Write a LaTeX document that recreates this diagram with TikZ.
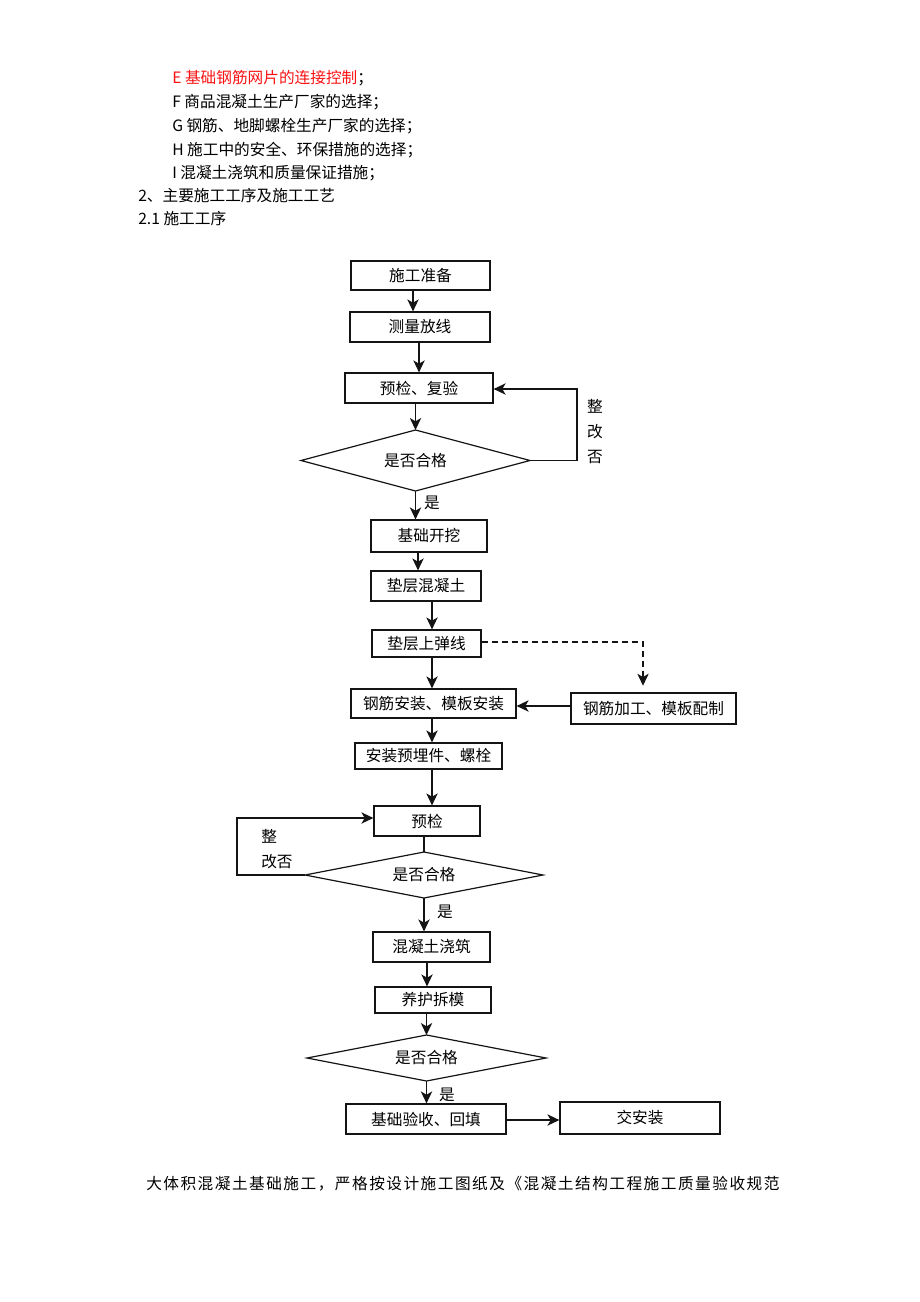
\documentclass[tikz,border=0pt]{standalone}
\usepackage{fontspec}
\newfontfamily\cjk{Noto Sans CJK SC}
\newfontfamily\cjkwide[LetterSpace=9.5]{Noto Sans CJK SC}
\usetikzlibrary{arrows.meta}
\definecolor{redtxt}{RGB}{250,20,20}
\definecolor{linec}{RGB}{20,20,20}
\newcommand\varr[3]{\coordinate (tmpx) at (#3,0); \draw[arr] (#1.south -| tmpx) -- (#2.north -| tmpx);}
% diamond: name, cx, cy, half width, half height, text
\newcommand\mydia[6]{%
  \coordinate (#1n) at (#2,#3-#5); \coordinate (#1s) at (#2,#3+#5);
  \coordinate (#1e) at (#2+#4,#3); \coordinate (#1w) at (#2-#4,#3);
  \draw[dia] (#1n) -- (#1e) -- (#1s) -- (#1w) -- cycle;
  \node (#1) at (#2,#3) {#6};}
\begin{document}
\begin{tikzpicture}[x=0.75pt,y=-0.75pt,
  every node/.style={font=\cjk\fontsize{11.75}{14}\selectfont, text=black},
  box/.style={draw=linec, line width=0.9pt, inner sep=0pt, rectangle},
  dia/.style={draw=linec, line width=0.9pt, line join=miter},
  arr/.style={draw=linec, -{Stealth[length=9pt,width=8.5pt,inset=2.5pt]}, line width=1pt},
  ln/.style={draw=linec, line width=1pt},
  txt/.style={anchor=west, inner sep=0pt}]
\fill[white] (0,0) rectangle (920,1302);
\useasboundingbox (0,0) rectangle (920,1302);

% header text
\node[txt] (l1) at (172,78) {\textcolor{redtxt}{E 基础钢筋网片的连接控制}；};
\node[txt] (l2) at (172,102) {F 商品混凝土生产厂家的选择；};
\node[txt] (l3) at (172,126) {G 钢筋、地脚螺栓生产厂家的选择；};
\node[txt] (l4) at (172,150) {H 施工中的安全、环保措施的选择；};
\node[txt] (l5) at (172,173) {I 混凝土浇筑和质量保证措施；};
\node[txt] (l6) at (138,196) {2、主要施工工序及施工工艺};
\node[txt] (l7) at (138,219) {2.1 施工工序};

% boxes
\node[box, minimum width=104.25pt, minimum height=21.75pt] (b1) at (420.5,275.5) {施工准备};
\node[box, minimum width=105pt, minimum height=22.5pt] (b2) at (420,327) {测量放线};
\node[box, minimum width=111pt, minimum height=22.5pt] (b3) at (419,388) {预检、复验};
\mydia{d1}{415.5}{460.5}{114.5}{30.5}{是否合格}
\node[box, minimum width=87pt, minimum height=24pt] (b5) at (429,536) {基础开挖};
\node[box, minimum width=82.5pt, minimum height=22.5pt] (b6) at (426,586) {垫层混凝土};
\node[box, minimum width=81.75pt, minimum height=20.25pt] (b7) at (426.5,643.5) {垫层上弹线};
\node[box, minimum width=123.75pt, minimum height=21.75pt] (b8) at (433.5,703.5) {钢筋安装、模板安装};
\node[box, minimum width=123.75pt, minimum height=23.25pt] (b9) at (653.5,708.5) {钢筋加工、模板配制};
\node[box, minimum width=110.25pt, minimum height=19.5pt] (b10) at (428.5,756) {安装预埋件、螺栓};
\node[box, minimum width=79.5pt, minimum height=22.5pt] (b11) at (427,821) {预检};
\mydia{d2}{424}{875}{119}{23}{是否合格}
\node[box, minimum width=87.75pt, minimum height=22.5pt] (b13) at (431.5,947) {混凝土浇筑};
\node[box, minimum width=87pt, minimum height=19.5pt] (b14) at (433,1000) {养护拆模};
\mydia{d3}{426.5}{1058}{119.5}{23}{是否合格}
\node[box, minimum width=120pt, minimum height=22.5pt] (b16) at (426,1119) {基础验收、回填};
\node[box, minimum width=120pt, minimum height=24pt] (b17) at (640,1118) {交安装};

% labels
\node[align=center, inner sep=0pt, font=\cjk\fontsize{11.75}{18.75}\selectfont] (t1) at (595,432) {整\\改\\否};
\node[align=left, anchor=west, inner sep=0pt, font=\cjk\fontsize{11.75}{18.75}\selectfont] (t2) at (261,849.5) {整\\改否};
\node (y1) at (432,503) {是};
\node (y2) at (445,912) {是};
\node (y3) at (447,1095) {是};

% vertical arrows
\varr{b1}{b2}{413}
\varr{b2}{b3}{419}
\draw[arr] (b3.south -| d1n) -- (d1n);
\draw[arr] (d1s) -- (d1s |- b5.north);
\varr{b5}{b6}{418}
\varr{b6}{b7}{432}
\varr{b7}{b8}{432}
\varr{b8}{b10}{432}
\varr{b10}{b11}{432}
\draw[ln] (b11.south -| d2n) -- (d2n);
\draw[arr] (d2s) -- (d2s |- b13.north);
\varr{b13}{b14}{427}
\draw[arr] (b14.south -| d3n) -- (d3n);
\draw[arr] (d3s) -- (d3s |- b16.north);

% feedback loops
\coordinate (r1) at (577,389);
\draw[arr] (d1e) -| (r1) -- (b3.east |- r1);
\coordinate (r2) at (237,818);
\draw[arr] (d2w) -| (r2) -- (b11.west |- r2);

% dashed and horizontal
\coordinate (c1) at (643,642);
\draw[arr, dash pattern=on 4.5pt off 3pt] (b7.east |- c1) -- (c1) -- ([yshift=5pt]b9.north -| c1);
\coordinate (c2) at (0,706);
\draw[arr] (b9.west |- c2) -- (b8.east |- c2);
\coordinate (c3) at (0,1120);
\draw[arr] (b16.east |- c3) -- (b17.west |- c3);

% bottom text
\node[txt, font=\cjkwide\fontsize{11.75}{14}\selectfont] (p1) at (146,1184) {大体积混凝土基础施工，严格按设计施工图纸及《混凝土结构工程施工质量验收规范};
\end{tikzpicture}
\end{document}
